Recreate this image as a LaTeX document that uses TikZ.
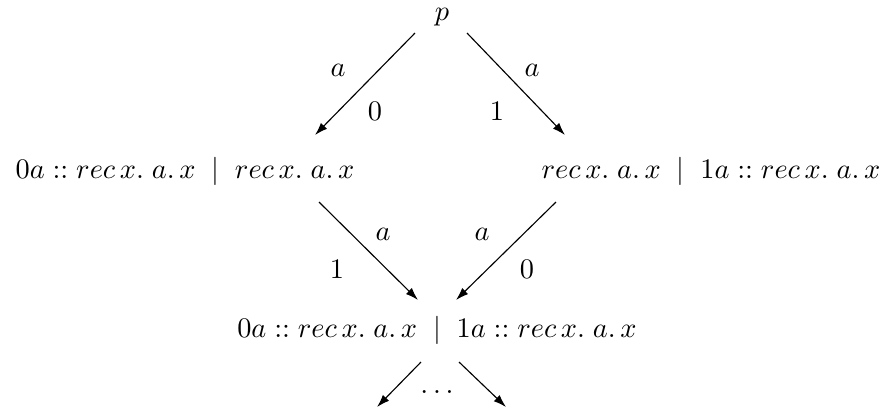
\documentclass[tikz,border=0pt]{standalone}
\usepackage{amsmath,amssymb}
\usepackage{tikz}
\usetikzlibrary{arrows.meta,calc}

\newcommand{\recx}{rec\,x.\;a.\,x}

\begin{document}
\begin{tikzpicture}[x=0.353pt, y=-0.353pt, >={Latex[length=4.5pt,width=3pt]}, every node/.style={inner sep=0pt, anchor=base}]
\useasboundingbox (0,0) rectangle (882,409);
\node (p) at (442,20) {$p$};
\node (lft) at (185,178) {$0a::\recx\;\mid\;\recx$};
\node (rgt) at (711,178) {$\recx\;\mid\;1a::\recx$};
\node (bot) at (437,337) {$0a::\recx\;\mid\;1a::\recx$};
\node (dots) at (437,393) {$\ldots$};
% labels of the transitions
\node (la1) at (338,76) {$a$};
\node (li1) at (375,120) {$0$};
\node (li2) at (497,120) {$1$};
\node (la2) at (532,76) {$a$};
\node (la3) at (383,240) {$a$};
\node (li3) at (337,278) {$1$};
\node (la4) at (482,240) {$a$};
\node (li4) at (527,278) {$0$};
% transitions
\draw[->] ($(p.base)+(-27,13)$) -- ($(lft.base)+(130,-43)$);
\draw[->] ($(p.base)+(25,13)$) -- ($(rgt.base)+(-146,-43)$);
\draw[->] ($(lft.base)+(134,24)$) -- ($(bot.base)+(-19,-37)$);
\draw[->] ($(rgt.base)+(-155,24)$) -- ($(bot.base)+(19,-37)$);
\draw[->] ($(bot.base)+(-16,25)$) -- ($(bot.base)+(-60,70)$);
\draw[->] ($(bot.base)+(22,25)$) -- ($(bot.base)+(69,70)$);
\end{tikzpicture}
\end{document}
